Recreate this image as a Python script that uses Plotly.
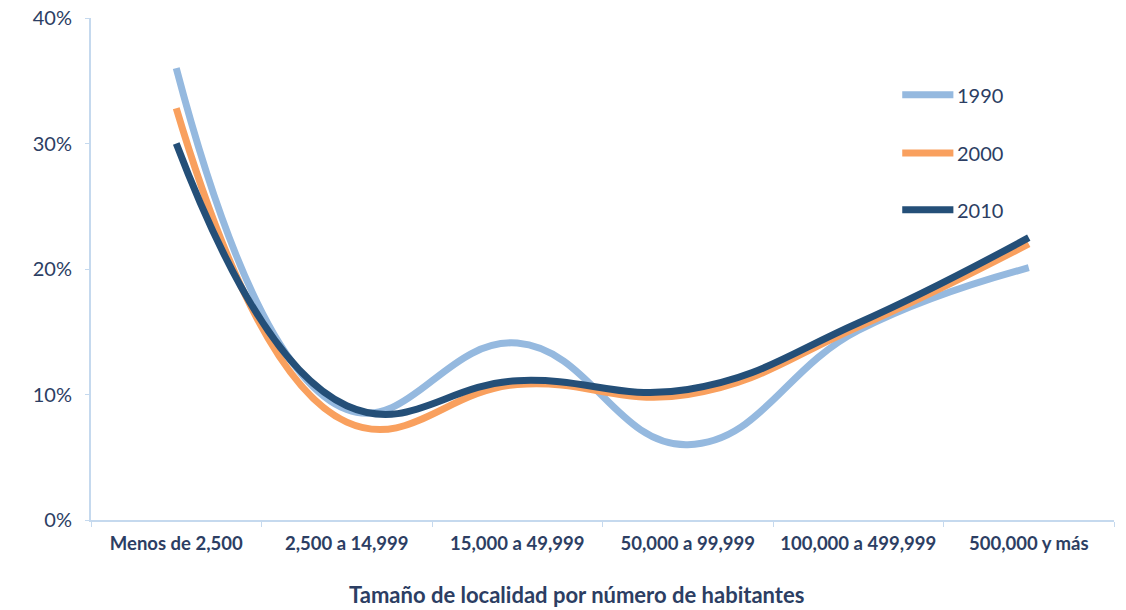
import plotly.graph_objects as go

categories = ["Menos de 2,500", "2,500 a 14,999", "15,000 a 49,999",
              "50,000 a 99,999", "100,000 a 499,999", "500,000 y más"]
series_names = ["1990", "2000", "2010"]
v1990 = [36.0, 8.8, 14.1, 6.0, 15.1, 20.1]
v2000 = [32.8, 7.8, 10.8, 10.0, 15.4, 22.0]
v2010 = [30.0, 9.1, 11.1, 10.4, 15.7, 22.5]
colors = ["#95b9df", "#f9a05e", "#244f78"]
y_ticks = [0, 10, 20, 30, 40]
x_title = "Tamaño de localidad por número de habitantes"

TEXT = "#2c3e63"
fig = go.Figure()
for name, vals, col in zip(series_names, [v1990, v2000, v2010], colors):
    fig.add_trace(go.Scatter(x=categories, y=vals, mode="lines", name=name,
                             line=dict(color=col, width=7, shape="spline", smoothing=1.25),
                             showlegend=False))

# legend drawn as shapes + labels
leg_y = [0.847, 0.731, 0.618]
for name, col, ly in zip(series_names, colors, leg_y):
    fig.add_shape(type="line", xref="paper", yref="paper", x0=0.793, x1=0.843, y0=ly, y1=ly,
                  line=dict(color=col, width=7))
    fig.add_annotation(xref="paper", yref="paper", x=0.845, y=ly, text=name, showarrow=False,
                       xanchor="left", yanchor="middle", font=dict(size=20, color=TEXT, family="Lato"))

fig.add_annotation(xref="paper", yref="paper", x=0.475, y=-0.148, text="<b>" + x_title + "</b>",
                   showarrow=False, xanchor="center", yanchor="middle",
                   font=dict(size=22, color=TEXT, family="Lato"))

fig.update_layout(
    width=1126, height=610, margin=dict(l=91, r=12, t=18, b=90),
    plot_bgcolor="white", paper_bgcolor="white",
    xaxis=dict(type="category", range=[-0.5, 5.5], tickson="boundaries", ticks="outside",
               ticklen=5, tickcolor="#c5d9ee", showline=True, linecolor="#c5d9ee", linewidth=2,
               showgrid=False, zeroline=False, automargin=False,
               tickfont=dict(size=18.5, color=TEXT, family="Lato", weight="bold"), ticklabelstandoff=6),
    yaxis=dict(range=[0, 40], tickvals=y_ticks, ticktext=[f"{t}%" for t in y_ticks],
               ticks="outside", ticklen=4, tickcolor="#c5d9ee", showline=True,
               linecolor="#c5d9ee", linewidth=2, showgrid=False, zeroline=False, automargin=False,
               tickfont=dict(size=20, color=TEXT, family="Lato"), ticklabelstandoff=9),
)
fig.write_html("out.html")
